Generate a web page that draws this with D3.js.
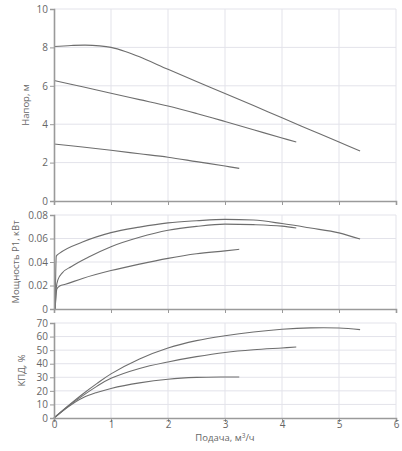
<!DOCTYPE html>
<html>
<head>
<meta charset="utf-8">
<script src="https://cdnjs.cloudflare.com/ajax/libs/d3/7.8.5/d3.min.js"></script>
<style>
body{margin:0;background:#fff;}
text{font-family:"Open Sans",sans-serif;fill:#666;}
.grid line{stroke:#e3e3ea;stroke-width:1;}
.curve{fill:none;stroke:#6e6e6e;stroke-width:1.1;}
</style>
</head>
<body>
<svg id="chart"></svg>
<script>
// x axis ticks (flow, m3/h)
var flowTicks = [0,1,2,3,4,5,6]

// head curves, [Q, H]
var head1 = [[0,8.05],[0.3,8.1],[0.55,8.12],[0.8,8.08],[1,8.0],[1.25,7.79],[1.5,7.51],[2,6.86],[2.5,6.22],[3,5.6],[3.5,4.97],[4,4.33],[4.5,3.7],[5,3.07],[5.37,2.6]]
var head2 = [[0,6.28],[0.5,5.95],[1,5.61],[1.5,5.28],[2,4.95],[2.5,4.56],[3,4.14],[3.5,3.71],[4,3.28],[4.25,3.07]]
var head3 = [[0,2.97],[0.5,2.81],[1,2.64],[1.5,2.46],[2,2.28],[2.5,2.05],[3,1.82],[3.25,1.7]]
var headTicks = [0,2,4,6,8,10]

// power curves, [Q, P1]
var power1 = [[0.02,0],[0.04,0.045],[0.1,0.0475],[0.5,0.057],[1,0.065],[1.5,0.0697],[2,0.0733],[2.5,0.0751],[3,0.0763],[3.5,0.0757],[4,0.0727],[4.5,0.0689],[5,0.0648],[5.37,0.0595]]
var power2 = [[0.02,0],[0.04,0.018],[0.07,0.025],[0.15,0.031],[0.3,0.036],[0.6,0.044],[1,0.053],[1.5,0.061],[2,0.067],[2.5,0.0703],[3,0.0722],[3.5,0.0718],[4,0.0705],[4.25,0.069]]
var power3 = [[0.02,0],[0.05,0.017],[0.1,0.0195],[0.2,0.021],[0.5,0.026],[1,0.0327],[1.5,0.0382],[2,0.0431],[2.5,0.047],[3,0.0495],[3.25,0.0508]]
var powerTicks = [0,0.02,0.04,0.06,0.08]

// efficiency curves, [Q, %]
var eff1 = [[0,0],[0.25,9],[0.5,17.5],[0.75,25.3],[1,32.5],[1.5,43.5],[2,51.6],[2.5,57],[3,60.6],[3.5,63.4],[4,65.4],[4.5,66.4],[5,66.3],[5.37,65.1]]
var eff2 = [[0,0],[0.25,8.7],[0.5,16.3],[0.75,23.3],[1,29.2],[1.5,36.5],[2,41.3],[2.5,45.2],[3,48.3],[3.5,50.3],[4,51.6],[4.25,52.3]]
var eff3 = [[0,0],[0.25,8.3],[0.5,14.8],[0.75,18.8],[1,21.8],[1.5,25.9],[2,28.6],[2.5,29.9],[3,30.2],[3.25,30.2]]
var effTicks = [0,10,20,30,40,50,60,70]

var screen = {width:402,height:451}
var margins = {left:54,right:6}

var svg = d3.select("#chart")
    .attr("width",screen.width)
    .attr("height",screen.height)

var xScale = d3.scaleLinear()
    .domain([0,6])
    .range([margins.left,screen.width-margins.right])

var drawPanel = function(panel)
{
    var yScale = d3.scaleLinear()
        .domain([panel.ticks[0],panel.ticks[panel.ticks.length-1]])
        .range([panel.bottom,panel.top])

    var g = svg.append("g")

    // grid
    var grid = g.append("g").classed("grid",true)
    grid.selectAll(".h")
        .data(panel.ticks.slice(1))
        .enter()
        .append("line")
        .attr("x1",xScale(0)).attr("x2",xScale(6))
        .attr("y1",function(d){return yScale(d)})
        .attr("y2",function(d){return yScale(d)})
    grid.selectAll(".v")
        .data(flowTicks.slice(1))
        .enter()
        .append("line")
        .attr("x1",function(d){return xScale(d)})
        .attr("x2",function(d){return xScale(d)})
        .attr("y1",panel.top).attr("y2",panel.bottom)

    // curves
    var line = d3.line()
        .x(function(d){return xScale(d[0])})
        .y(function(d){return yScale(d[1])})
        .curve(panel.curve)
    g.selectAll(".curve")
        .data(panel.series)
        .enter()
        .append("path")
        .classed("curve",true)
        .attr("d",line)

    // axes
    var xAxis = d3.axisBottom(xScale)
        .tickValues(flowTicks)
        .tickSize(4)
        .tickPadding(-1)
        .tickFormat(panel.showX ? d3.format("d") : "")
    var xg = g.append("g")
        .attr("transform","translate(0,"+panel.bottom+")")
        .call(xAxis)

    var yAxis = d3.axisLeft(yScale)
        .tickValues(panel.ticks)
        .tickSize(4)
        .tickPadding(2)
        .tickFormat(panel.format)
    var yg = g.append("g")
        .attr("transform","translate("+margins.left+",0)")
        .call(yAxis)

    ;[xg,yg].forEach(function(a)
    {
        a.select(".domain").attr("stroke","#9a9a9a").attr("stroke-width",1.6)
        a.selectAll(".tick line").attr("stroke","#9a9a9a")
        a.selectAll(".tick text")
            .style("font-family","'Open Sans',sans-serif")
            .style("font-size","10px")
            .attr("fill","#666")
    })

    g.append("text")
        .text(panel.label)
        .attr("text-anchor","middle")
        .style("font-size","9.5px")
        .attr("transform","translate("+panel.labelX+","+((panel.top+panel.bottom)/2)+") rotate(-90)")
}

drawPanel({top:9,bottom:201,ticks:headTicks,series:[head1,head2,head3],curve:d3.curveCatmullRom,
    format:d3.format("d"),label:"Напор, м",labelX:29,showX:false})
drawPanel({top:215,bottom:309,ticks:powerTicks,series:[power1,power2,power3],curve:d3.curveMonotoneX,
    format:function(d){return d==0?"0":d3.format(".2f")(d)},label:"Мощность P1, кВт",labelX:19,showX:false})
drawPanel({top:323,bottom:418,ticks:effTicks,series:[eff1,eff2,eff3],curve:d3.curveCatmullRom,
    format:d3.format("d"),label:"КПД, %",labelX:25,showX:true})

var xl = svg.append("text")
    .attr("text-anchor","middle")
    .attr("x",xScale(3))
    .attr("y",441)
    .style("font-size","9.5px")
xl.append("tspan").text("Подача, м")
xl.append("tspan").text("3").attr("dy",-3).style("font-size","6.5px")
xl.append("tspan").text("/ч").attr("dy",3)
</script>
</body>
</html>
